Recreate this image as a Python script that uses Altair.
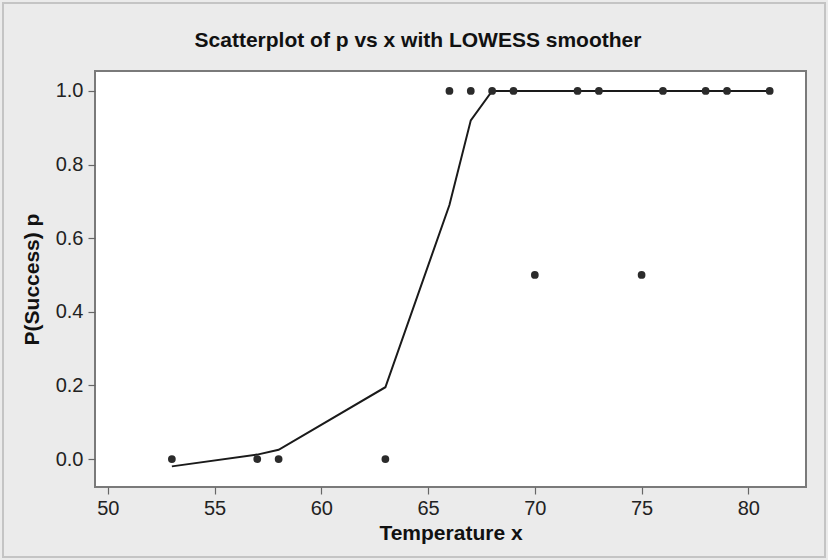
import altair as alt
import pandas as pd

# Scatter data
temp_x = [53, 57, 58, 63, 66, 67, 68, 69, 70, 72, 73, 75, 76, 78, 79, 81]
p_vals = [0, 0, 0, 0, 1, 1, 1, 1, 0.5, 1, 1, 0.5, 1, 1, 1, 1]

# LOWESS smoother
lowess_x = [53, 57, 58, 63, 66, 67, 68, 69, 72, 73, 76, 78, 79, 81]
lowess_y = [-0.02, 0.012, 0.025, 0.195, 0.69, 0.92, 1.0, 1.0, 1.0, 1.0, 1.0, 1.0, 1.0, 1.0]

title_text = ["Scatterplot of p vs x with LOWESS smoother"]

pts = pd.DataFrame({"x": temp_x, "p": p_vals})
smooth = pd.DataFrame({"x": lowess_x, "p": lowess_y})
frame = pd.DataFrame({"k": [0]})
ttl = pd.DataFrame({"t": title_text})

xscale = alt.Scale(domain=[49.4, 82.7], nice=False, zero=False)
yscale = alt.Scale(domain=[-0.076, 1.054], nice=False, zero=False)

F = "Liberation Sans"
xaxis = alt.Axis(values=[50, 55, 60, 65, 70, 75, 80], title="Temperature x",
                 grid=False, domain=False, tickSize=7, tickColor="#666", tickWidth=1.2,
                 labelFontSize=20, labelColor="#222", labelPadding=4,
                 titleFontSize=21, titleFontWeight="bold", titleColor="#111",
                 titlePadding=4, labelFont=F, titleFont=F)
yaxis = alt.Axis(values=[0, 0.2, 0.4, 0.6, 0.8, 1.0], format=".1f", title="P(Success) p",
                 grid=False, domain=False, tickSize=7, tickColor="#666", tickWidth=1.2,
                 labelFontSize=20, labelColor="#222", labelPadding=5,
                 titleFontSize=21, titleFontWeight="bold", titleColor="#111",
                 titlePadding=13, labelFont=F, titleFont=F)

line = alt.Chart(smooth).mark_line(color="#1a1a1a", strokeWidth=2).encode(
    x=alt.X("x:Q", scale=xscale, axis=xaxis),
    y=alt.Y("p:Q", scale=yscale, axis=yaxis),
)
points = alt.Chart(pts).mark_circle(color="#2b2b2b", size=60, opacity=1).encode(
    x=alt.X("x:Q", scale=xscale),
    y=alt.Y("p:Q", scale=yscale),
)
border = alt.Chart(frame).mark_rect(fill="transparent", stroke="#c4c4c4", strokeWidth=2).encode(
    x=alt.value(-92), x2=alt.value(730), y=alt.value(-68), y2=alt.value(486)
)
title_mark = alt.Chart(ttl).mark_text(
    font=F, fontSize=21, fontWeight="bold", color="#111",
    align="center", baseline="alphabetic"
).encode(
    text="t:N", x=alt.value(323), y=alt.value(-24)
)

chart = alt.layer(line, points, border, title_mark).properties(
    width=711, height=416,
    background="#ebebeb",
    padding={"left": 95, "top": 71, "right": 22, "bottom": 73},
    autosize=alt.AutoSizeParams(type="none"),
).configure_view(
    fill="white", stroke="#7a7a7a", strokeWidth=2
)

chart.save("out.html", embed_options={"renderer": "svg", "actions": False})
